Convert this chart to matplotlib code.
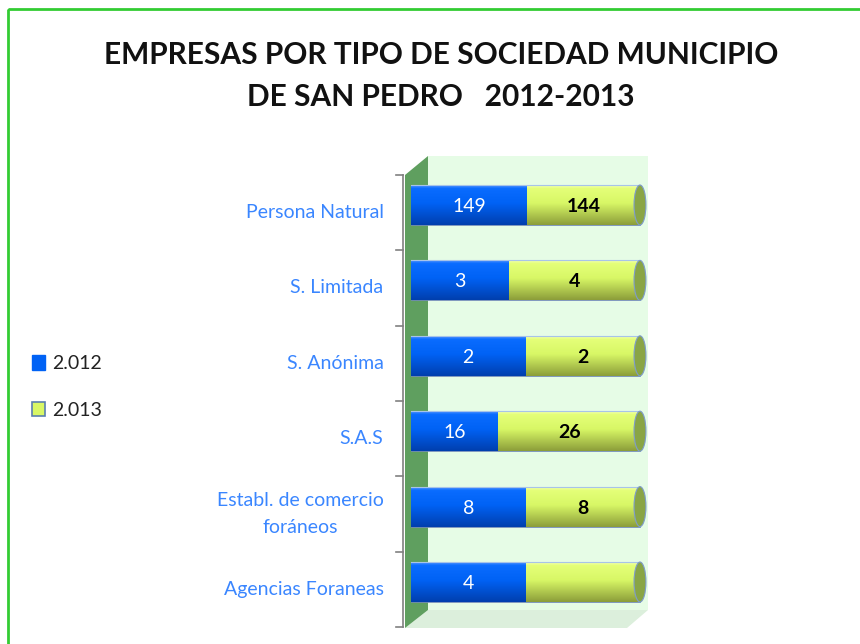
import numpy as np
import matplotlib
matplotlib.use("Agg")
import matplotlib.pyplot as plt
from matplotlib.patches import Polygon, Ellipse, Rectangle
from matplotlib.colors import to_rgb

plt.rcParams['font.family'] = ['Lato', 'DejaVu Sans']

categories = ["Persona Natural", "S. Limitada", "S. Anónima", "S.A.S",
              "Establ. de comercio\nforáneos", "Agencias Foraneas"]
values_2012 = [149, 3, 2, 16, 8, 4]
values_2013 = [144, 4, 2, 26, 8, 4]
labels_2012 = ["149", "3", "2", "16", "8", "4"]
labels_2013 = ["144", "4", "2", "26", "8", ""]
series_names = ["2.012", "2.013"]
title = "EMPRESAS POR TIPO DE SOCIEDAD MUNICIPIO\nDE SAN PEDRO   2012-2013"

W, H = 860, 644
fig = plt.figure(figsize=(W / 100, H / 100), dpi=100)

# background axes in pixel coordinates for 3D walls and frame
bg = fig.add_axes([0, 0, 1, 1], zorder=-1)
bg.set_xlim(0, W)
bg.set_ylim(H, 0)
bg.axis('off')
bg.add_patch(Rectangle((8, 9), 900, 700, fill=False, edgecolor='#33cc33', lw=2))
bg.add_patch(Polygon([(428, 156), (648, 156), (648, 610), (428, 610)], closed=True,
                     facecolor='#e6fce6', edgecolor='none'))
bg.add_patch(Polygon([(405, 628), (428, 610), (648, 610), (627, 628)], closed=True,
                     facecolor='#dcefdc', edgecolor='none'))
bg.add_patch(Polygon([(405, 175), (428, 156), (428, 610), (405, 628)], closed=True,
                     facecolor='#5f9f5f', edgecolor='none'))

# main axes
ax = fig.add_axes([403 / W, 1 - 628 / H, 245 / W, 473 / H])
ax.set_xlim(-0.035, 1.035)
ax.set_ylim(5.61, -0.663)
ax.axis('off')
ax.patch.set_alpha(0)

n = len(categories)
y = np.arange(n)
v12 = np.array(values_2012, float)
v13 = np.array(values_2013, float)
tot = v12 + v13
f12 = v12 / tot
f13 = v13 / tot
bh = 0.53

# axis line and ticks
ax.plot([-0.035, -0.035], [-0.4, n - 0.4], color='#808080', lw=1.2, clip_on=False)
for t in np.arange(n + 1) - 0.4:
    ax.plot([-0.065, -0.035], [t, t], color='#808080', lw=1.2, clip_on=False)


def gradient(c_top, c_mid, c_bot, c_hi):
    a = np.array(to_rgb(c_top)); m = np.array(to_rgb(c_mid)); b = np.array(to_rgb(c_bot))
    h = np.array(to_rgb(c_hi))
    cols = []
    for t in np.linspace(0, 1, 64):
        if t < 0.08:
            c = h + (a - h) * t / 0.08
        elif t < 0.45:
            c = a + (m - a) * (t - 0.08) / 0.37
        else:
            c = m + (b - m) * (t - 0.45) / 0.55
        cols.append(c)
    return np.array(cols)[:, None, :]


blue_grad = gradient('#0a6cff', '#0062f5', '#003fae', '#4a90ff')
green_grad = gradient('#e4ff78', '#d8f766', '#8c9e3a', '#f2ffb0')

bars12 = ax.barh(y, f12, height=bh, color='none', edgecolor='none')
bars13 = ax.barh(y, f13, left=f12, height=bh, color='none', edgecolor='none')

cap_w = 0.052
for i in range(n):
    yc = y[i]
    for bar, grad in ((bars12[i], blue_grad), (bars13[i], green_grad)):
        x0 = bar.get_x(); w = bar.get_width()
        im = ax.imshow(grad, extent=(x0, x0 + w, yc + bh / 2, yc - bh / 2),
                       aspect='auto', zorder=3)
        im.set_clip_path(bar)
    ax.plot([0, 1], [yc - bh / 2, yc - bh / 2], color='#a8c4e8', lw=0.8, zorder=4)
    ax.plot([0, 1], [yc + bh / 2, yc + bh / 2], color='#6f88b8', lw=0.6, zorder=4)
    ax.add_patch(Ellipse((1, yc), cap_w, bh, facecolor='#89a545',
                         edgecolor='#7f9ccc', lw=0.8, zorder=5))
    ax.text(f12[i] / 2, yc + 0.02, labels_2012[i], ha='center', va='center',
            color='white', fontsize=14, zorder=6)
    ax.text(f12[i] + f13[i] / 2, yc + 0.02, labels_2013[i], ha='center', va='center',
            color='black', fontsize=14, fontweight='bold', zorder=6)
    ax.text(-0.12, yc + 0.1, categories[i], ha='right', va='center', multialignment='center',
            color='#3a86ff', fontsize=14, clip_on=False, linespacing=1.75)

# title
fig.text(441 / W, 1 - 76 / H, title, ha='center', va='center', fontsize=21.5,
         fontweight='bold', color='#111111', linespacing=1.65)

# legend
handles = [Rectangle((0, 0), 1, 1, facecolor='#0062f5', edgecolor='#0062f5'),
           Rectangle((0, 0), 1, 1, facecolor='#d8f766', edgecolor='#5a7fb0', lw=1.2)]
fig.legend(handles, series_names, loc='center left', bbox_to_anchor=(14 / W, 1 - 387 / H),
           frameon=False, fontsize=14, handlelength=0.7, handleheight=0.8,
           handletextpad=0.35, labelspacing=1.5, labelcolor='#222222')

fig.savefig('out.png', dpi=100)
